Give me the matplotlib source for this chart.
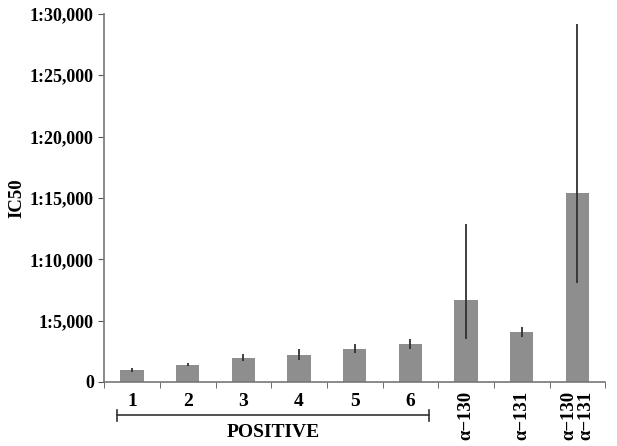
import numpy as np
import matplotlib.pyplot as plt

plt.rcParams['font.family'] = ['Liberation Serif', 'DejaVu Serif']
plt.rcParams['font.weight'] = 'bold'

labels = ['1', '2', '3', '4', '5', '6', 'α\u2212130', 'α\u2212131', 'α\u2212130\nα\u2212131']
values = [980, 1380, 1950, 2200, 2700, 3100, 6700, 4100, 15400]
err_low = [150, 100, 250, 400, 350, 400, 3200, 400, 7300]
err_high = [200, 150, 300, 500, 400, 400, 6200, 400, 13800]

fig = plt.figure(figsize=(6.17, 4.46), dpi=100)
ax = fig.add_axes([0.169, 0.1435, 0.812, 0.8255])

x = np.arange(len(values))
ax.bar(x, values, width=0.42, color='#8e8e8e', zorder=2)
ax.errorbar(x, values, yerr=[err_low, err_high], fmt='none', ecolor='#303030',
            elinewidth=1.3, capsize=0, zorder=3)

ax.set_xlim(-0.5, len(values) - 0.5)
ax.set_ylim(0, 30000)
yt = [0, 5000, 10000, 15000, 20000, 25000, 30000]
ax.set_yticks(yt)
ax.set_yticklabels(['0'] + ['1:{:,}'.format(v) for v in yt[1:]], fontsize=13, fontweight='bold')
ax.set_ylabel('IC50', fontsize=13.5, fontweight='bold', labelpad=3)

ax.set_xticks(np.arange(len(values) + 1) - 0.5, minor=True)
ax.set_xticks(x)
ax.set_xticklabels([])
ax.tick_params(axis='x', which='major', length=0)
ax.tick_params(axis='x', which='minor', length=4, color='#555555', direction='out')
ax.tick_params(axis='y', length=4, color='#555555', direction='out')

for s in ['top', 'right']:
    ax.spines[s].set_visible(False)
for s in ['left', 'bottom']:
    ax.spines[s].set_color('#777777')
    ax.spines[s].set_linewidth(1.2)

trans = ax.get_xaxis_transform()
for i, lab in enumerate(labels):
    if i < 6:
        ax.text(i, -0.03, lab, transform=trans, ha='center', va='top', fontsize=14, fontweight='bold')
    else:
        ax.text(i, -0.025, lab, transform=trans, ha='center', va='top', rotation=90,
                fontsize=13.5, fontweight='bold', linespacing=1.0)

# POSITIVE bracket
ax.plot([-0.27, 5.33], [-0.09, -0.09], transform=trans, color='#333333', lw=1.2, clip_on=False)
for xe in [-0.27, 5.33]:
    ax.plot([xe, xe], [-0.075, -0.105], transform=trans, color='#333333', lw=1.2, clip_on=False)
ax.text(2.53, -0.113, 'POSITIVE', transform=trans, ha='center', va='top', fontsize=14, fontweight='bold')

fig.savefig('out.png', dpi=100)
